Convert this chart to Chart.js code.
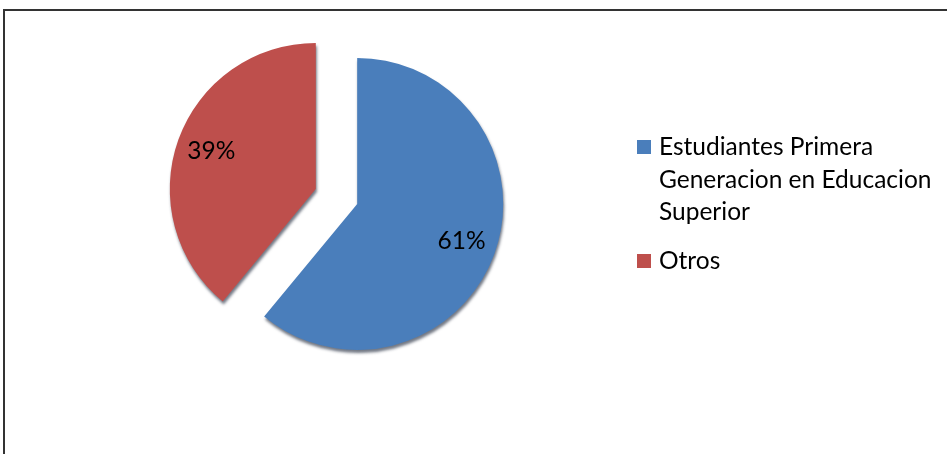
<!DOCTYPE html>
<html>
<head>
<meta charset="utf-8">
<script src="https://cdn.jsdelivr.net/npm/chart.js@4/dist/chart.umd.min.js"></script>
<style>
  html, body { margin: 0; padding: 0; background: #fff; }
  #wrap { position: relative; width: 947px; height: 454px; overflow: hidden; }
  #frame { position: absolute; left: 3px; top: 9px; width: 960px; height: 460px;
           border-left: 2px solid #333; border-top: 2px solid #333; }
  canvas { position: absolute; left: 0; top: 0; }
  #legend { position: absolute; left: 637px; top: 130px; font-family: Lato, sans-serif;
            font-size: 24.5px; line-height: 32.5px; color: #000; }
  .item { display: flex; align-items: flex-start; margin-bottom: 16px; }
  .box { width: 14px; height: 14px; margin-top: 10px; margin-right: 8px; flex: none; }
  .txt { width: 288px; }
</style>
</head>
<body>
<div id="wrap">
  <div id="frame"></div>
  <canvas id="pieChart" width="947" height="454"></canvas>
  <div id="legend"></div>
</div>
<script>
var categories = ['Estudiantes Primera Generacion en Educacion Superior', 'Otros'];
var shares = [61, 39];
var colors = ['#4a7ebb', '#be4f4c'];

// separacion de cada porcion (px)
var explode = 22;

var explodePlugin = {
    id: 'explode',
    beforeDatasetDraw: function(chart, args) {
        var ctx = chart.ctx;
        args.meta.data.forEach(function(arc) {
            var mid = (arc.startAngle + arc.endAngle) / 2;
            ctx.save();
            ctx.translate(Math.cos(mid) * explode, Math.sin(mid) * explode);
            ctx.shadowColor = 'rgba(20, 30, 50, 0.6)';
            ctx.shadowBlur = 3;
            ctx.shadowOffsetX = 1;
            ctx.shadowOffsetY = 3;
            arc.draw(ctx);
            ctx.restore();
        });
        return false;
    },
    afterDatasetsDraw: function(chart) {
        var ctx = chart.ctx;
        var meta = chart.getDatasetMeta(0);
        var ds = chart.data.datasets[0].data;
        var total = ds.reduce(function(a, b) { return a + b; }, 0);
        ctx.save();
        ctx.font = '24.5px Lato, sans-serif';
        ctx.fillStyle = '#000';
        ctx.textAlign = 'center';
        ctx.textBaseline = 'middle';
        meta.data.forEach(function(arc, i) {
            var mid = (arc.startAngle + arc.endAngle) / 2;
            var r = explode + arc.outerRadius * 0.76;
            var x = arc.x + Math.cos(mid) * r;
            var y = arc.y + Math.sin(mid) * r;
            ctx.fillText(Math.round(ds[i] / total * 100) + '%', x, y);
        });
        ctx.restore();
    }
};

var ctx = document.getElementById('pieChart').getContext('2d');
var pieChart = new Chart(ctx, {
    type: 'pie',
    data: {
        labels: categories,
        datasets: [{
            data: shares,
            backgroundColor: colors,
            borderWidth: 0
        }]
    },
    options: {
        responsive: false,
        animation: false,
        radius: 146,
        layout: { padding: { left: 0, right: 274, top: 0, bottom: 61 } },
        plugins: {
            legend: { display: false },
            tooltip: { enabled: false }
        }
    },
    plugins: [explodePlugin]
});

var legend = document.getElementById('legend');
categories.forEach(function(name, i) {
    var item = document.createElement('div');
    item.className = 'item';
    var box = document.createElement('div');
    box.className = 'box';
    box.style.background = colors[i];
    var txt = document.createElement('div');
    txt.className = 'txt';
    txt.textContent = name;
    item.appendChild(box);
    item.appendChild(txt);
    legend.appendChild(item);
});
</script>
</body>
</html>
